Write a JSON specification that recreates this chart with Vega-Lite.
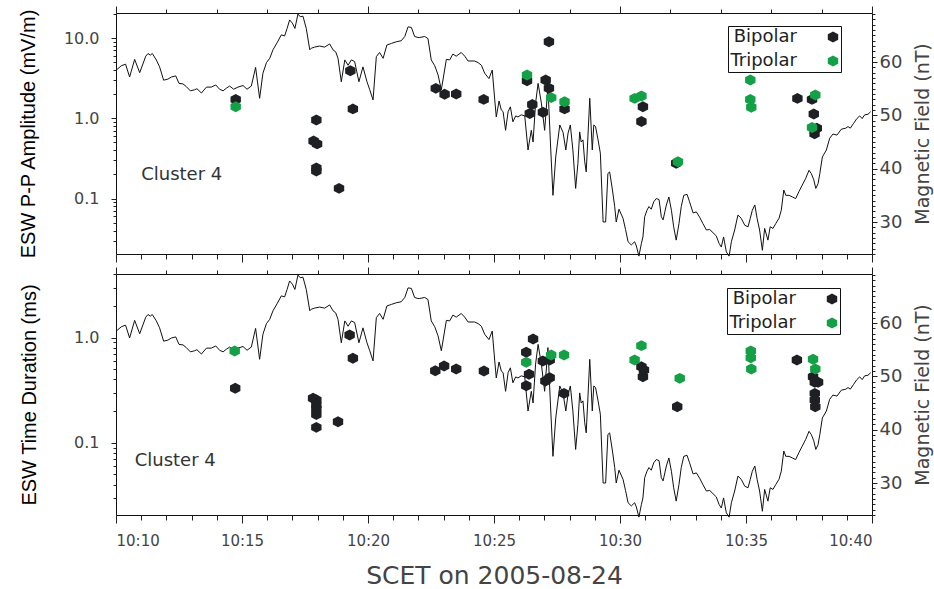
{
  "$schema": "https://vega.github.io/schema/vega-lite/v6.json",
  "background": "white",
  "padding": {"left": 17, "top": 5, "right": 0, "bottom": 5},
  "bounds": "flush",
  "spacing": 20,
  "datasets": {
    "bfield": [
      {"minute": 10.01, "bt": 58.5}, {"minute": 10.21, "bt": 59.3}, {"minute": 10.38, "bt": 59.6}, {"minute": 10.54, "bt": 57.2},
      {"minute": 10.74, "bt": 60.5}, {"minute": 10.94, "bt": 58.0}, {"minute": 11.18, "bt": 61.1}, {"minute": 11.27, "bt": 61.6},
      {"minute": 11.36, "bt": 61.3}, {"minute": 11.44, "bt": 61.6}, {"minute": 11.6, "bt": 60.4}, {"minute": 11.73, "bt": 59.1},
      {"minute": 11.89, "bt": 56.6}, {"minute": 12.06, "bt": 56.8}, {"minute": 12.2, "bt": 57.2}, {"minute": 12.37, "bt": 57.4},
      {"minute": 12.5, "bt": 56.0}, {"minute": 12.66, "bt": 55.9}, {"minute": 12.79, "bt": 55.4}, {"minute": 12.95, "bt": 54.6},
      {"minute": 13.12, "bt": 54.8}, {"minute": 13.21, "bt": 55.0}, {"minute": 13.39, "bt": 54.2}, {"minute": 13.59, "bt": 55.3},
      {"minute": 13.78, "bt": 55.3}, {"minute": 13.96, "bt": 55.7}, {"minute": 14.11, "bt": 54.9}, {"minute": 14.25, "bt": 54.6},
      {"minute": 14.38, "bt": 55.1}, {"minute": 14.51, "bt": 55.5}, {"minute": 14.67, "bt": 54.9}, {"minute": 14.84, "bt": 55.3},
      {"minute": 15.04, "bt": 55.6}, {"minute": 15.2, "bt": 54.9}, {"minute": 15.37, "bt": 55.5}, {"minute": 15.54, "bt": 59.0},
      {"minute": 15.7, "bt": 53.2}, {"minute": 15.83, "bt": 57.9}, {"minute": 15.97, "bt": 59.9}, {"minute": 16.1, "bt": 60.7},
      {"minute": 16.23, "bt": 62.3}, {"minute": 16.39, "bt": 63.6}, {"minute": 16.56, "bt": 65.1}, {"minute": 16.69, "bt": 64.9},
      {"minute": 16.79, "bt": 66.3}, {"minute": 16.89, "bt": 67.9}, {"minute": 17.0, "bt": 67.3}, {"minute": 17.1, "bt": 66.3},
      {"minute": 17.22, "bt": 69.0}, {"minute": 17.31, "bt": 68.5}, {"minute": 17.42, "bt": 68.6}, {"minute": 17.55, "bt": 66.3},
      {"minute": 17.69, "bt": 62.3}, {"minute": 17.75, "bt": 62.6}, {"minute": 17.88, "bt": 62.8}, {"minute": 18.08, "bt": 63.0},
      {"minute": 18.28, "bt": 62.8}, {"minute": 18.48, "bt": 63.4}, {"minute": 18.61, "bt": 62.3}, {"minute": 18.72, "bt": 61.9},
      {"minute": 18.81, "bt": 60.7}, {"minute": 18.94, "bt": 56.3}, {"minute": 19.08, "bt": 60.4}, {"minute": 19.21, "bt": 59.4},
      {"minute": 19.34, "bt": 60.4}, {"minute": 19.47, "bt": 60.1}, {"minute": 19.64, "bt": 56.3}, {"minute": 19.8, "bt": 59.1},
      {"minute": 19.96, "bt": 56.3}, {"minute": 20.07, "bt": 54.8}, {"minute": 20.2, "bt": 52.9}, {"minute": 20.33, "bt": 61.0},
      {"minute": 20.46, "bt": 61.8}, {"minute": 20.6, "bt": 60.7}, {"minute": 20.75, "bt": 63.2}, {"minute": 20.93, "bt": 63.5},
      {"minute": 21.12, "bt": 63.8}, {"minute": 21.32, "bt": 64.0}, {"minute": 21.46, "bt": 64.8}, {"minute": 21.59, "bt": 66.6},
      {"minute": 21.72, "bt": 66.5}, {"minute": 21.85, "bt": 64.8}, {"minute": 21.98, "bt": 64.6}, {"minute": 22.05, "bt": 64.6},
      {"minute": 22.25, "bt": 64.8}, {"minute": 22.38, "bt": 64.4}, {"minute": 22.51, "bt": 60.4}, {"minute": 22.65, "bt": 59.3},
      {"minute": 22.78, "bt": 57.6}, {"minute": 22.91, "bt": 54.8}, {"minute": 23.11, "bt": 60.5}, {"minute": 23.24, "bt": 60.4},
      {"minute": 23.37, "bt": 61.5}, {"minute": 23.5, "bt": 61.1}, {"minute": 23.7, "bt": 61.8}, {"minute": 23.84, "bt": 61.1},
      {"minute": 23.97, "bt": 60.2}, {"minute": 24.23, "bt": 60.2}, {"minute": 24.37, "bt": 59.9}, {"minute": 24.5, "bt": 59.4},
      {"minute": 24.63, "bt": 57.9}, {"minute": 24.8, "bt": 56.9}, {"minute": 24.93, "bt": 58.5}, {"minute": 25.03, "bt": 52.9},
      {"minute": 25.09, "bt": 49.7}, {"minute": 25.2, "bt": 52.7}, {"minute": 25.29, "bt": 51.0}, {"minute": 25.36, "bt": 50.7},
      {"minute": 25.46, "bt": 47.2}, {"minute": 25.56, "bt": 50.7}, {"minute": 25.65, "bt": 51.6}, {"minute": 25.75, "bt": 48.8},
      {"minute": 25.86, "bt": 49.9}, {"minute": 25.95, "bt": 49.7}, {"minute": 26.08, "bt": 50.1}, {"minute": 26.22, "bt": 49.9},
      {"minute": 26.35, "bt": 43.5}, {"minute": 26.48, "bt": 47.2}, {"minute": 26.55, "bt": 45.0}, {"minute": 26.65, "bt": 52.3},
      {"minute": 26.75, "bt": 56.0}, {"minute": 26.88, "bt": 52.3}, {"minute": 27.01, "bt": 47.2}, {"minute": 27.14, "bt": 55.4},
      {"minute": 27.24, "bt": 44.8}, {"minute": 27.34, "bt": 35.0}, {"minute": 27.45, "bt": 42.2}, {"minute": 27.61, "bt": 48.2},
      {"minute": 27.74, "bt": 46.8}, {"minute": 27.85, "bt": 43.5}, {"minute": 27.94, "bt": 46.7}, {"minute": 28.03, "bt": 48.2},
      {"minute": 28.13, "bt": 43.5}, {"minute": 28.24, "bt": 36.3}, {"minute": 28.33, "bt": 41.0}, {"minute": 28.4, "bt": 46.9},
      {"minute": 28.46, "bt": 45.0}, {"minute": 28.53, "bt": 45.4}, {"minute": 28.6, "bt": 41.3}, {"minute": 28.66, "bt": 39.4},
      {"minute": 28.8, "bt": 53.2}, {"minute": 28.9, "bt": 43.5}, {"minute": 28.96, "bt": 48.2}, {"minute": 29.03, "bt": 47.9},
      {"minute": 29.13, "bt": 45.4}, {"minute": 29.22, "bt": 42.9}, {"minute": 29.33, "bt": 30.0}, {"minute": 29.43, "bt": 30.0},
      {"minute": 29.52, "bt": 39.1}, {"minute": 29.59, "bt": 39.4}, {"minute": 29.7, "bt": 36.0}, {"minute": 29.79, "bt": 32.9},
      {"minute": 29.85, "bt": 30.0}, {"minute": 29.96, "bt": 32.4}, {"minute": 30.12, "bt": 30.7}, {"minute": 30.22, "bt": 28.6},
      {"minute": 30.32, "bt": 26.3}, {"minute": 30.45, "bt": 25.7}, {"minute": 30.58, "bt": 26.3}, {"minute": 30.65, "bt": 25.5},
      {"minute": 30.75, "bt": 23.6}, {"minute": 30.85, "bt": 26.0}, {"minute": 30.91, "bt": 27.2}, {"minute": 30.98, "bt": 31.0},
      {"minute": 31.07, "bt": 32.2}, {"minute": 31.15, "bt": 32.9}, {"minute": 31.24, "bt": 32.4}, {"minute": 31.34, "bt": 33.8},
      {"minute": 31.44, "bt": 34.4}, {"minute": 31.55, "bt": 34.2}, {"minute": 31.64, "bt": 31.0}, {"minute": 31.71, "bt": 30.4},
      {"minute": 31.84, "bt": 33.2}, {"minute": 31.94, "bt": 34.7}, {"minute": 32.04, "bt": 32.2}, {"minute": 32.13, "bt": 29.1},
      {"minute": 32.23, "bt": 26.6}, {"minute": 32.34, "bt": 29.7}, {"minute": 32.43, "bt": 32.9}, {"minute": 32.53, "bt": 35.0},
      {"minute": 32.66, "bt": 35.2}, {"minute": 32.76, "bt": 33.8}, {"minute": 32.9, "bt": 31.7}, {"minute": 33.03, "bt": 31.9},
      {"minute": 33.16, "bt": 30.9}, {"minute": 33.29, "bt": 29.7}, {"minute": 33.43, "bt": 28.5}, {"minute": 33.56, "bt": 28.6},
      {"minute": 33.69, "bt": 28.0}, {"minute": 33.82, "bt": 27.4}, {"minute": 33.93, "bt": 26.0}, {"minute": 34.02, "bt": 25.3},
      {"minute": 34.11, "bt": 27.2}, {"minute": 34.22, "bt": 24.4}, {"minute": 34.33, "bt": 23.6}, {"minute": 34.42, "bt": 26.3},
      {"minute": 34.55, "bt": 28.5}, {"minute": 34.68, "bt": 31.3}, {"minute": 34.81, "bt": 30.7}, {"minute": 34.95, "bt": 29.4},
      {"minute": 35.08, "bt": 29.1}, {"minute": 35.17, "bt": 30.7}, {"minute": 35.25, "bt": 32.2}, {"minute": 35.35, "bt": 33.2},
      {"minute": 35.44, "bt": 30.7}, {"minute": 35.54, "bt": 28.5}, {"minute": 35.65, "bt": 24.7}, {"minute": 35.74, "bt": 28.8},
      {"minute": 35.87, "bt": 26.6}, {"minute": 35.96, "bt": 29.1}, {"minute": 36.07, "bt": 28.8}, {"minute": 36.18, "bt": 29.7},
      {"minute": 36.31, "bt": 30.7}, {"minute": 36.4, "bt": 32.2}, {"minute": 36.5, "bt": 36.0}, {"minute": 36.58, "bt": 35.0},
      {"minute": 36.71, "bt": 35.0}, {"minute": 36.84, "bt": 34.7}, {"minute": 36.97, "bt": 34.4}, {"minute": 37.1, "bt": 35.7},
      {"minute": 37.23, "bt": 36.9}, {"minute": 37.37, "bt": 38.2}, {"minute": 37.5, "bt": 39.7}, {"minute": 37.59, "bt": 39.1},
      {"minute": 37.69, "bt": 37.9}, {"minute": 37.77, "bt": 36.3}, {"minute": 37.86, "bt": 37.2}, {"minute": 37.93, "bt": 39.1},
      {"minute": 38.03, "bt": 42.2}, {"minute": 38.19, "bt": 43.5}, {"minute": 38.32, "bt": 45.7}, {"minute": 38.45, "bt": 46.5},
      {"minute": 38.61, "bt": 46.3}, {"minute": 38.78, "bt": 47.4}, {"minute": 38.96, "bt": 47.6}, {"minute": 39.05, "bt": 47.9},
      {"minute": 39.14, "bt": 47.6}, {"minute": 39.27, "bt": 48.5}, {"minute": 39.4, "bt": 49.4}, {"minute": 39.51, "bt": 49.9},
      {"minute": 39.61, "bt": 49.4}, {"minute": 39.71, "bt": 50.1}, {"minute": 39.84, "bt": 50.2}, {"minute": 39.95, "bt": 50.7}
    ],
    "amp": [
      {"minute": 14.75, "amp": 1.72, "type": "Bipolar"}, {"minute": 17.95, "amp": 0.95, "type": "Bipolar"},
      {"minute": 17.84, "amp": 0.52, "type": "Bipolar"}, {"minute": 17.98, "amp": 0.48, "type": "Bipolar"},
      {"minute": 17.95, "amp": 0.24, "type": "Bipolar"}, {"minute": 17.95, "amp": 0.22, "type": "Bipolar"},
      {"minute": 18.85, "amp": 0.134, "type": "Bipolar"}, {"minute": 19.3, "amp": 3.92, "type": "Bipolar"},
      {"minute": 19.4, "amp": 1.31, "type": "Bipolar"}, {"minute": 22.69, "amp": 2.36, "type": "Bipolar"},
      {"minute": 23.04, "amp": 1.99, "type": "Bipolar"}, {"minute": 23.5, "amp": 2.01, "type": "Bipolar"},
      {"minute": 24.59, "amp": 1.72, "type": "Bipolar"}, {"minute": 26.31, "amp": 2.94, "type": "Bipolar"},
      {"minute": 26.52, "amp": 1.49, "type": "Bipolar"}, {"minute": 26.42, "amp": 1.15, "type": "Bipolar"},
      {"minute": 26.94, "amp": 1.19, "type": "Bipolar"}, {"minute": 27.05, "amp": 3.0, "type": "Bipolar"},
      {"minute": 27.18, "amp": 9.0, "type": "Bipolar"}, {"minute": 27.18, "amp": 2.37, "type": "Bipolar"},
      {"minute": 27.8, "amp": 1.31, "type": "Bipolar"}, {"minute": 30.91, "amp": 1.39, "type": "Bipolar"},
      {"minute": 30.85, "amp": 0.91, "type": "Bipolar"}, {"minute": 32.23, "amp": 0.275, "type": "Bipolar"},
      {"minute": 37.04, "amp": 1.77, "type": "Bipolar"}, {"minute": 37.62, "amp": 1.72, "type": "Bipolar"},
      {"minute": 37.69, "amp": 1.13, "type": "Bipolar"}, {"minute": 37.81, "amp": 0.75, "type": "Bipolar"},
      {"minute": 37.72, "amp": 0.64, "type": "Bipolar"},
      {"minute": 14.75, "amp": 1.39, "type": "Tripolar"}, {"minute": 26.31, "amp": 3.46, "type": "Tripolar"},
      {"minute": 27.27, "amp": 1.81, "type": "Tripolar"}, {"minute": 27.8, "amp": 1.61, "type": "Tripolar"},
      {"minute": 30.58, "amp": 1.77, "type": "Tripolar"}, {"minute": 30.85, "amp": 1.9, "type": "Tripolar"},
      {"minute": 32.3, "amp": 0.288, "type": "Tripolar"}, {"minute": 35.17, "amp": 3.0, "type": "Tripolar"},
      {"minute": 35.17, "amp": 1.72, "type": "Tripolar"}, {"minute": 35.21, "amp": 1.37, "type": "Tripolar"},
      {"minute": 37.75, "amp": 1.95, "type": "Tripolar"}, {"minute": 37.62, "amp": 0.77, "type": "Tripolar"}
    ],
    "dur": [
      {"minute": 14.73, "dur": 0.33, "type": "Bipolar"}, {"minute": 19.27, "dur": 1.06, "type": "Bipolar"},
      {"minute": 19.4, "dur": 0.637, "type": "Bipolar"}, {"minute": 17.82, "dur": 0.265, "type": "Bipolar"},
      {"minute": 17.95, "dur": 0.255, "type": "Bipolar"}, {"minute": 17.95, "dur": 0.229, "type": "Bipolar"},
      {"minute": 17.95, "dur": 0.209, "type": "Bipolar"}, {"minute": 17.95, "dur": 0.186, "type": "Bipolar"},
      {"minute": 17.95, "dur": 0.14, "type": "Bipolar"}, {"minute": 18.81, "dur": 0.158, "type": "Bipolar"},
      {"minute": 22.67, "dur": 0.485, "type": "Bipolar"}, {"minute": 23.02, "dur": 0.537, "type": "Bipolar"},
      {"minute": 23.5, "dur": 0.503, "type": "Bipolar"}, {"minute": 24.6, "dur": 0.482, "type": "Bipolar"},
      {"minute": 26.28, "dur": 0.726, "type": "Bipolar"}, {"minute": 26.55, "dur": 0.97, "type": "Bipolar"},
      {"minute": 26.39, "dur": 0.448, "type": "Bipolar"}, {"minute": 26.28, "dur": 0.349, "type": "Bipolar"},
      {"minute": 26.94, "dur": 0.6, "type": "Bipolar"}, {"minute": 27.21, "dur": 0.613, "type": "Bipolar"},
      {"minute": 27.04, "dur": 0.387, "type": "Bipolar"}, {"minute": 27.21, "dur": 0.416, "type": "Bipolar"},
      {"minute": 27.78, "dur": 0.295, "type": "Bipolar"}, {"minute": 30.85, "dur": 0.53, "type": "Bipolar"},
      {"minute": 30.95, "dur": 0.492, "type": "Bipolar"}, {"minute": 30.91, "dur": 0.425, "type": "Bipolar"},
      {"minute": 32.27, "dur": 0.22, "type": "Bipolar"}, {"minute": 37.02, "dur": 0.613, "type": "Bipolar"},
      {"minute": 37.66, "dur": 0.425, "type": "Bipolar"}, {"minute": 37.86, "dur": 0.376, "type": "Bipolar"},
      {"minute": 37.73, "dur": 0.376, "type": "Bipolar"}, {"minute": 37.73, "dur": 0.295, "type": "Bipolar"},
      {"minute": 37.73, "dur": 0.255, "type": "Bipolar"}, {"minute": 37.75, "dur": 0.22, "type": "Bipolar"},
      {"minute": 14.71, "dur": 0.747, "type": "Tripolar"}, {"minute": 26.28, "dur": 0.583, "type": "Tripolar"},
      {"minute": 27.27, "dur": 0.684, "type": "Tripolar"}, {"minute": 27.78, "dur": 0.684, "type": "Tripolar"},
      {"minute": 30.58, "dur": 0.613, "type": "Tripolar"}, {"minute": 30.85, "dur": 0.84, "type": "Tripolar"},
      {"minute": 32.37, "dur": 0.41, "type": "Tripolar"}, {"minute": 35.19, "dur": 0.747, "type": "Tripolar"},
      {"minute": 35.19, "dur": 0.645, "type": "Tripolar"}, {"minute": 35.21, "dur": 0.503, "type": "Tripolar"},
      {"minute": 37.66, "dur": 0.622, "type": "Tripolar"}, {"minute": 37.75, "dur": 0.503, "type": "Tripolar"}
    ]
  },
  "vconcat": [
    {
      "width": 756,
      "height": 241,
      "layer": [
        {
          "data": {"name": "bfield"},
          "mark": {"type": "line", "color": "#111", "strokeWidth": 1},
          "encoding": {
            "x": {"field": "minute", "type": "quantitative", "scale": {"domain": [10, 40], "nice": false, "zero": false},
              "axis": {"orient": "bottom", "values": [10,11,12,13,14,15,16,17,18,19,20,21,22,23,24,25,26,27,28,29,30,31,32,33,34,35,36,37,38,39,40], "labels": false, "title": null,
                "tickSize": {"condition": {"test": "datum.value % 5 === 0", "value": 8}, "value": 5}}},
            "y": {"field": "bt", "type": "quantitative", "scale": {"domain": [24, 69.2], "nice": false, "zero": false},
              "axis": {"orient": "right", "values": [24,25,26,27,28,29,30,31,32,33,34,35,36,37,38,39,40,41,42,43,44,45,46,47,48,49,50,51,52,53,54,55,56,57,58,59,60,61,62,63,64,65,66,67,68,69],
                "labelExpr": "datum.value % 10 === 0 ? datum.value : ''", "labelFontSize": 18, "labelPadding": 2,
                "tickSize": {"condition": {"test": "datum.value % 10 === 0", "value": 5}, "value": 3},
                "title": "Magnetic Field (nT)", "titleAngle": 270, "titleBaseline": "top", "titleFontSize": 19, "titlePadding": 12}}
          }
        },
        {
          "layer": [
            {
              "data": {"name": "amp"},
              "mark": {"type": "point", "filled": true, "opacity": 1, "size": 120, "strokeWidth": 0, "shape": "M0,-1L0.95,-0.5L0.95,0.5L0,1L-0.95,0.5L-0.95,-0.5Z"},
              "encoding": {
                "x": {"field": "minute", "type": "quantitative", "scale": {"domain": [10, 40], "nice": false, "zero": false},
                  "axis": {"orient": "top", "values": [10,11,12,13,14,15,16,17,18,19,20,21,22,23,24,25,26,27,28,29,30,31,32,33,34,35,36,37,38,39,40], "labels": false, "title": null,
                    "tickSize": {"condition": {"test": "datum.value % 5 === 0", "value": 7}, "value": 4}}},
                "y": {"field": "amp", "type": "quantitative", "scale": {"type": "log", "domain": [0.0204, 20.5], "nice": false},
                  "axis": {"orient": "left", "values": [0.03,0.04,0.05,0.06,0.07,0.08,0.09,0.1,0.2,0.3,0.4,0.5,0.6,0.7,0.8,0.9,1,2,3,4,5,6,7,8,9,10,20],
                    "labelExpr": "(datum.value === 0.1 || datum.value === 1 || datum.value === 10) ? format(datum.value, '.1f') : ''",
                    "labelFontSize": 16, "labelPadding": 12,
                    "tickSize": {"condition": {"test": "datum.value === 0.1 || datum.value === 1 || datum.value === 10", "value": 5}, "value": 3},
                    "title": "ESW P-P Amplitude (mV/m)", "titleFont": "Liberation Sans", "titleColor": "#000", "titleFontSize": 20, "titlePadding": 25}},
                "color": {"field": "type", "type": "nominal", "scale": {"domain": ["Bipolar", "Tripolar"], "range": ["#1e2024", "#14a046"]},
                  "legend": {"title": null, "orient": "none", "legendX": 612, "legendY": 13, "symbolOffset": 94, "labelOffset": -45, "labelAlign": "right"}}
              }
            },
            {
              "data": {"values": [{}]},
              "mark": {"type": "text", "align": "left", "baseline": "middle", "font": "DejaVu Sans", "fontSize": 18, "color": "#333"},
              "encoding": {
                "x": {"datum": 11.0, "type": "quantitative"},
                "y": {"datum": 0.197, "type": "quantitative"},
                "text": {"value": "Cluster 4"}
              }
            }
          ]
        }
      ],
      "resolve": {"scale": {"y": "independent"}, "axis": {"x": "independent", "y": "independent"}}
    },
    {
      "width": 756,
      "height": 241,
      "layer": [
        {
          "data": {"name": "bfield"},
          "mark": {"type": "line", "color": "#111", "strokeWidth": 1},
          "encoding": {
            "x": {"field": "minute", "type": "quantitative", "scale": {"domain": [10, 40], "nice": false, "zero": false},
              "axis": {"orient": "bottom", "values": [10,11,12,13,14,15,16,17,18,19,20,21,22,23,24,25,26,27,28,29,30,31,32,33,34,35,36,37,38,39,40],
                "labelExpr": "datum.value % 5 === 0 ? '10:' + format(datum.value, '02d') : ''", "labelFontSize": 15, "labelPadding": 10,
                "tickSize": {"condition": {"test": "datum.value % 5 === 0", "value": 8}, "value": 5},
                "title": "SCET on 2005-08-24", "titleFontSize": 25, "titlePadding": 15}},
            "y": {"field": "bt", "type": "quantitative", "scale": {"domain": [24, 69.2], "nice": false, "zero": false},
              "axis": {"orient": "right", "values": [24,25,26,27,28,29,30,31,32,33,34,35,36,37,38,39,40,41,42,43,44,45,46,47,48,49,50,51,52,53,54,55,56,57,58,59,60,61,62,63,64,65,66,67,68,69],
                "labelExpr": "datum.value % 10 === 0 ? datum.value : ''", "labelFontSize": 18, "labelPadding": 2,
                "tickSize": {"condition": {"test": "datum.value % 10 === 0", "value": 5}, "value": 3},
                "title": "Magnetic Field (nT)", "titleAngle": 270, "titleBaseline": "top", "titleFontSize": 19, "titlePadding": 12}}
          }
        },
        {
          "layer": [
            {
              "data": {"name": "dur"},
              "mark": {"type": "point", "filled": true, "opacity": 1, "size": 120, "strokeWidth": 0, "shape": "M0,-1L0.95,-0.5L0.95,0.5L0,1L-0.95,0.5L-0.95,-0.5Z"},
              "encoding": {
                "x": {"field": "minute", "type": "quantitative", "scale": {"domain": [10, 40], "nice": false, "zero": false},
                  "axis": {"orient": "top", "values": [10,11,12,13,14,15,16,17,18,19,20,21,22,23,24,25,26,27,28,29,30,31,32,33,34,35,36,37,38,39,40], "labels": false, "title": null,
                    "tickSize": {"condition": {"test": "datum.value % 5 === 0", "value": 7}, "value": 4}}},
                "y": {"field": "dur", "type": "quantitative", "scale": {"type": "log", "domain": [0.0205, 4.04], "nice": false},
                  "axis": {"orient": "left", "values": [0.03,0.04,0.05,0.06,0.07,0.08,0.09,0.1,0.2,0.3,0.4,0.5,0.6,0.7,0.8,0.9,1,2,3,4],
                    "labelExpr": "(datum.value === 0.1 || datum.value === 1) ? format(datum.value, '.1f') : ''",
                    "labelFontSize": 16, "labelPadding": 12,
                    "tickSize": {"condition": {"test": "datum.value === 0.1 || datum.value === 1", "value": 5}, "value": 3},
                    "title": "ESW Time Duration (ms)", "titleFont": "Liberation Sans", "titleColor": "#000", "titleFontSize": 20, "titlePadding": 34}},
                "color": {"field": "type", "type": "nominal", "scale": {"domain": ["Bipolar", "Tripolar"], "range": ["#1e2024", "#14a046"]},
                  "legend": {"title": null, "orient": "none", "legendX": 611, "legendY": 14, "symbolOffset": 94, "labelOffset": -45, "labelAlign": "right"}}
              }
            },
            {
              "data": {"values": [{}]},
              "mark": {"type": "text", "align": "left", "baseline": "middle", "font": "DejaVu Sans", "fontSize": 18, "color": "#333"},
              "encoding": {
                "x": {"datum": 10.74, "type": "quantitative"},
                "y": {"datum": 0.067, "type": "quantitative"},
                "text": {"value": "Cluster 4"}
              }
            }
          ]
        }
      ],
      "resolve": {"scale": {"y": "independent"}, "axis": {"x": "independent", "y": "independent"}}
    }
  ],
  "resolve": {"scale": {"color": "independent"}, "legend": {"color": "independent"}},
  "config": {
    "view": {"stroke": "#111", "strokeWidth": 1},
    "axis": {"domain": false, "grid": false, "tickColor": "#222", "tickWidth": 1, "labelFont": "DejaVu Sans", "labelColor": "#444", "titleFont": "DejaVu Sans", "titleColor": "#444", "titleFontWeight": "normal"},
    "legend": {"strokeColor": "#111", "fillColor": "white", "padding": 2, "labelFont": "DejaVu Sans", "labelFontSize": 18, "labelColor": "#222", "symbolSize": 120, "symbolStrokeWidth": 0, "symbolOpacity": 1, "rowPadding": 6, "symbolType": "M0,-1L0.95,-0.5L0.95,0.5L0,1L-0.95,0.5L-0.95,-0.5Z"}
  }
}
